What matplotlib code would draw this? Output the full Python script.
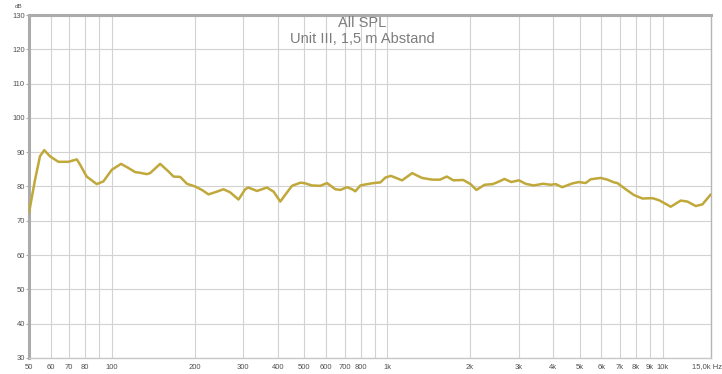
import matplotlib
matplotlib.use("Agg")
import matplotlib.pyplot as plt
from matplotlib.ticker import FixedLocator, NullLocator

plt.rcParams['font.family'] = ['Liberation Sans', 'DejaVu Sans']

title_lines = ["All SPL", "Unit III, 1,5 m Abstand"]

freq_hz = [50, 52.6, 54.8, 56.8, 59.6, 63.9, 69.5, 74.6, 76.6, 81, 88.1, 93.2,
           100, 108, 114.8, 121.5, 126.6, 134, 137.7, 149.7, 160.5, 167.4, 177,
           187.3, 200.7, 212.3, 224.4, 240.7, 254.4, 269, 288.4, 305, 313, 336.5,
           365.8, 386.6, 409, 426.4, 451, 483.6, 500, 533, 571.5, 604.5, 648, 676,
           715, 745.6, 766, 799, 833, 893, 945, 985, 1031, 1133, 1232, 1338, 1454,
           1557, 1646, 1739, 1889, 2007, 2109, 2258, 2418, 2557, 2665, 2822, 3009,
           3180, 3400, 3680, 3921, 4090, 4325, 4705, 4971, 5256, 5482, 5962, 6305,
           6666, 6855, 7350, 7878, 8452, 9190, 9713, 10712, 11646, 12320, 13204,
           13968, 14974]
spl_db = [72.3, 82, 88.8, 90.6, 88.8, 87.2, 87.2, 87.9, 86.4, 82.9, 80.7, 81.5,
          84.9, 86.6, 85.4, 84.2, 84.0, 83.6, 83.9, 86.6, 84.4, 82.9, 82.8,
          80.8, 80.0, 79.0, 77.7, 78.5, 79.2, 78.3, 76.2, 79.2, 79.7, 78.7,
          79.7, 78.5, 75.6, 77.6, 80.2, 81.1, 81.0, 80.3, 80.2, 81.0, 79.2, 79.0,
          79.8, 79.2, 78.6, 80.3, 80.6, 81.0, 81.2, 82.6, 83.1, 81.8, 83.9, 82.5, 82.0,
          82.0, 82.9, 81.8, 81.9, 80.7, 79.0, 80.5, 80.7, 81.5, 82.2, 81.3, 81.8,
          80.8, 80.3, 80.8, 80.5, 80.7, 79.8, 80.9, 81.3, 81.0, 82.1, 82.5, 82.0,
          81.2, 81.0, 79.2, 77.5, 76.5, 76.6, 76.0, 74.1, 75.9, 75.6, 74.3,
          74.8, 77.7]

y_ticks = [30, 40, 50, 60, 70, 80, 90, 100, 110, 120, 130]
x_tick_vals = [50, 60, 70, 80, 100, 200, 300, 400, 500, 600, 700, 800,
               1000, 2000, 3000, 4000, 5000, 6000, 7000, 8000, 9000, 10000]
x_tick_labels = ["50", "60", "70", "80", "100", "200", "300", "400", "500", "600",
                 "700", "800", "1k", "2k", "3k", "4k", "5k", "6k", "7k", "8k", "9k", "10k"]
x_grid_extra = [90, 900]

W, H = 722, 374
fig = plt.figure(figsize=(W / 100, H / 100), dpi=100)
ax = fig.add_axes([29 / W, 1 - 358 / H, (711 - 29) / W, (358 - 15) / H])

ax.set_xscale('log')
ax.set_xlim(50, 15000)
ax.set_ylim(30, 130)

grid_c = '#d2d2d2'
for yv in y_ticks:
    ax.axhline(yv, color=grid_c, lw=0.8, zorder=1)
for xv in x_tick_vals + x_grid_extra:
    ax.axvline(xv, color=grid_c, lw=0.8, zorder=1)

ax.plot(freq_hz, spl_db, color='#c0a83a', lw=1.8, zorder=3,
        solid_joinstyle='round', solid_capstyle='round')

ax.xaxis.set_major_locator(FixedLocator(x_tick_vals))
ax.xaxis.set_minor_locator(NullLocator())
ax.set_xticklabels(x_tick_labels)
ax.set_yticks(y_ticks)
ax.set_yticklabels([str(v) for v in y_ticks])
ax.tick_params(axis='both', labelsize=5.5, colors='#505050', length=0, pad=4)
ax.tick_params(axis='y', length=2, pad=1, color='#aaaaaa')

for side in ['left', 'top']:
    ax.spines[side].set_color('#ababab')
    ax.spines[side].set_linewidth(2.2)
ax.spines['right'].set_color('#b5b5b5')
ax.spines['right'].set_linewidth(1)
ax.spines['bottom'].set_color('#c8c8c8')
ax.spines['bottom'].set_linewidth(1)

fig.text(692 / W, 1 - 367 / H, "15,0k Hz", fontsize=5.5, color='#505050', ha='left', va='center')
fig.text(19 / W, 1 - 7 / H, "dB", fontsize=4.5, color='#505050', ha='center', va='center')

fig.text(362 / W, 1 - 23 / H, title_lines[0], fontsize=10.5, color='#7c7c7c', ha='center', va='center')
fig.text(362 / W, 1 - 39 / H, title_lines[1], fontsize=10.5, color='#7c7c7c', ha='center', va='center')

fig.savefig("out.png", dpi=100)
